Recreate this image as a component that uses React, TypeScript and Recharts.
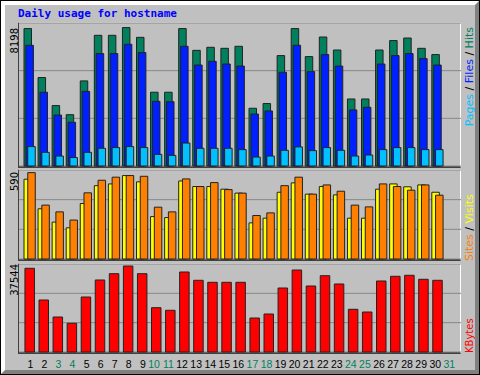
import { BarChart, Bar, XAxis, YAxis, CartesianGrid } from "recharts";

// day-of-month categories and values
const days = ["1","2","3","4","5","6","7","8","9","10","11","12","13","14","15","16","17","18","19","20","21","22","23","24","25","26","27","28","29","30","31"];
const weekendDays = ["3","4","10","11","17","18","24","25","31"];

const hits = [8140,5240,3580,3040,5040,7740,7740,8198,7620,4370,4370,8140,6850,7030,6970,7090,3420,3700,6540,8140,6480,7640,6870,3970,3970,6870,7430,7580,6970,6600,null];
const files = [7150,4370,3020,2590,4420,6660,6660,7210,6720,3830,3810,7090,5980,6200,6040,5920,3080,3260,5550,7150,5590,6600,5920,3320,3480,6040,6540,6660,6360,5980,null];
const pages = [1150,810,590,500,810,1050,1090,1150,1090,690,630,1360,1050,1050,1050,970,530,590,930,1130,910,1090,930,590,650,970,1090,1090,970,970,null];
const visits = [545,343,252,213,379,501,513,570,527,290,283,533,495,495,477,450,247,279,456,520,443,495,438,279,279,477,513,493,506,456,null];
const sites = [590,368,322,266,452,538,559,570,565,354,322,547,495,522,474,450,297,315,501,559,443,506,463,368,356,513,495,470,506,436,null];
const kbytes = [36540,22700,15280,12530,24010,31440,34190,37544,34190,19340,18210,34930,31300,30430,30430,30430,14840,16590,27940,35800,28820,33310,29690,18640,17460,31000,33050,33490,31740,31300,null];

const topMax = 8470;
const midMax = 608;
const botMax = 38420;

const HIT = "#00805c";
const FILE = "#0020ff";
const PAGE = "#00c0ff";
const VISIT = "#ffff00";
const SITE = "#ff8000";
const KBYTE = "#ff0000";
const EDGE = "#222";
const GRID = "#888";
const SANS = "'DejaVu Sans', sans-serif";

const rows = days.map((d, i) => ({
  day: d,
  hits: hits[i],
  files: files[i],
  pages: pages[i],
  visits: visits[i],
  sites: sites[i],
  kbytes: kbytes[i],
}));

function DayTick({ x, y, payload }: any) {
  const weekend = weekendDays.includes(payload.value);
  return (
    <text x={x + 3.3} y={y + 16} textAnchor="end" fontSize={10.5}
      fontFamily="'Liberation Sans', Arial, sans-serif" fill={weekend ? HIT : "#000"}>
      {payload.value}
    </text>
  );
}

const abs = { position: "absolute" as const, left: 0, top: 0 };

function Frame({ top, height }: { top: number; height: number }) {
  return (
    <div style={{
      position: "absolute", left: 18, top, width: 443, height, boxSizing: "border-box",
      borderTop: "1px solid #fff", borderRight: "1px solid #fff",
      borderLeft: "1px solid #404040", borderBottom: "2px solid #404040",
    }} />
  );
}

export default function App() {
  return (
    <div style={{ ...abs, width: 480, height: 375, background: "#c0c0c0", overflow: "hidden" }}>
      <div style={{ ...abs, width: 480, height: 375, boxSizing: "border-box", border: "1px solid #000" }} />
      <div style={{
        position: "absolute", left: 1, top: 1, width: 478, height: 373, boxSizing: "border-box",
        borderTop: "4px solid #fff", borderLeft: "4px solid #fff",
        borderBottom: "4px solid #808080", borderRight: "4px solid #808080",
      }} />

      <Frame top={22} height={146} />
      <Frame top={169} height={92} />
      <Frame top={263} height={91} />

      {/* hits / files / pages */}
      <div style={abs}>
        <BarChart width={480} height={375} data={rows} margin={{ top: 23, right: 19, bottom: 209, left: 19 }}>
          <XAxis xAxisId="h" dataKey="day" hide padding={{ left: 2, right: 4.06 }} />
          <XAxis xAxisId="f" dataKey="day" hide padding={{ left: 3.9, right: 2.16 }} />
          <XAxis xAxisId="p" dataKey="day" hide padding={{ left: 5.75, right: 0.31 }} />
          <YAxis hide domain={[0, topMax]} ticks={[topMax / 3, (topMax * 2) / 3]} />
          <CartesianGrid xAxisId="h" vertical={false} stroke={GRID} />
          <Bar xAxisId="h" dataKey="hits" barSize={7.5} fill={HIT} stroke={EDGE} isAnimationActive={false} />
          <Bar xAxisId="f" dataKey="files" barSize={7.5} fill={FILE} stroke={EDGE} isAnimationActive={false} />
          <Bar xAxisId="p" dataKey="pages" barSize={7.5} fill={PAGE} stroke={EDGE} isAnimationActive={false} />
        </BarChart>
      </div>

      {/* visits / sites */}
      <div style={abs}>
        <BarChart width={480} height={375} data={rows} margin={{ top: 170, right: 19, bottom: 116, left: 19 }}>
          <XAxis xAxisId="v" dataKey="day" hide padding={{ left: 2, right: 4.06 }} />
          <XAxis xAxisId="s" dataKey="day" hide padding={{ left: 5.75, right: 0.31 }} />
          <YAxis hide domain={[0, midMax]} ticks={[midMax / 3, (midMax * 2) / 3]} />
          <CartesianGrid xAxisId="v" vertical={false} stroke={GRID} />
          <Bar xAxisId="v" dataKey="visits" barSize={7.5} fill={VISIT} stroke={EDGE} isAnimationActive={false} />
          <Bar xAxisId="s" dataKey="sites" barSize={7.5} fill={SITE} stroke={EDGE} isAnimationActive={false} />
        </BarChart>
      </div>

      {/* kbytes, with the day labels */}
      <div style={abs}>
        <BarChart width={480} height={375} data={rows} margin={{ top: 264, right: 19, bottom: 0, left: 19 }}>
          <XAxis xAxisId="k" dataKey="day" height={23} interval={0} axisLine={false} tickLine={false}
            tickSize={0} tickMargin={0} padding={{ left: 3.94, right: 2.12 }} tick={<DayTick />} />
          <YAxis hide domain={[0, botMax]} ticks={[botMax / 3, (botMax * 2) / 3]} />
          <CartesianGrid xAxisId="k" vertical={false} stroke={GRID} />
          <Bar xAxisId="k" dataKey="kbytes" barSize={9.5} fill={KBYTE} stroke={EDGE} isAnimationActive={false} />
        </BarChart>
      </div>

      <svg width={480} height={375} style={{ ...abs, pointerEvents: "none" }}>
        <text x={18} y={17} fontFamily="'DejaVu Sans Mono', monospace" fontWeight="bold" fontSize={11} fill="#0000ff">
          Daily usage for hostname
        </text>

        <g fontFamily={SANS} fontSize={10} fill="#000" textAnchor="end">
          <text x={18} y={28} transform="rotate(-90 18 28)">8198</text>
          <text x={18} y={172} transform="rotate(-90 18 172)">590</text>
          <text x={18} y={264} transform="rotate(-90 18 264)">37544</text>
        </g>

        <g fontFamily={SANS} fontSize={11}>
          <text x={473} y={27} textAnchor="end" transform="rotate(-90 473 27)">
            <tspan fill={PAGE}>Pages</tspan>
            <tspan fill="#000"> / </tspan>
            <tspan fill={FILE}>Files</tspan>
            <tspan fill="#000"> / </tspan>
            <tspan fill={HIT}>Hits</tspan>
          </text>
          <text x={473} y={261} textAnchor="start" transform="rotate(-90 473 261)">
            <tspan fill={SITE}>Sites</tspan>
            <tspan fill="#000"> / </tspan>
            <tspan fill={VISIT}>Visits</tspan>
          </text>
          <text x={473} y={353} textAnchor="start" fontSize={10} transform="rotate(-90 473 353)" fill={KBYTE}>
            KBytes
          </text>
        </g>
      </svg>
    </div>
  );
}
